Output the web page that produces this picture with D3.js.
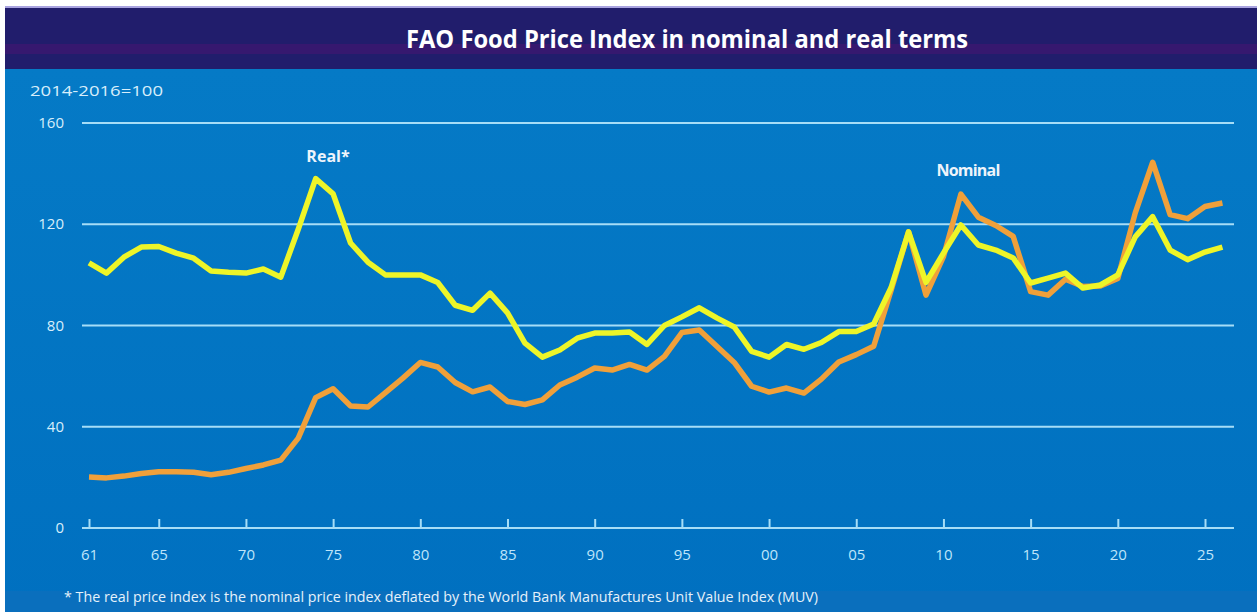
<!DOCTYPE html>
<html>
<head>
<meta charset="utf-8">
<script src="https://cdn.jsdelivr.net/npm/d3@7"></script>
<style>
body { margin: 0; background: #ffffff; }
svg { display: block; }
</style>
</head>
<body>
<svg id="chart" width="1257" height="612"></svg>
<script>
var years = d3.range(1961, 2027);

var nominal = [20.1, 19.8, 20.5, 21.5, 22.2, 22.2, 22.0, 21.0, 22.0, 23.5,
	24.9, 26.8, 35.5, 51.5, 55.0, 48.2, 47.8, 53.5, 59.2, 65.4,
	63.6, 57.5, 53.8, 55.7, 50.0, 48.8, 50.6, 56.5, 59.6, 63.2,
	62.4, 64.6, 62.4, 67.8, 77.2, 78.2, 71.8, 65.4, 56.0, 53.7,
	55.3, 53.3, 58.8, 65.6, 68.5, 71.8, 94.0, 117.0, 92.0, 107.2,
	131.9, 122.8, 119.5, 115.2, 93.4, 92.0, 98.3, 95.4, 95.6, 98.6,
	124.5, 144.5, 123.8, 122.2, 127.0, 128.4];

var real = [104.7, 100.7, 107.0, 111.0, 111.2, 108.6, 106.6, 101.5, 101.0, 100.7,
	102.3, 99.1, 118.0, 138.0, 132.0, 112.6, 105.0, 100.0, 100.0, 100.0,
	97.0, 88.0, 86.0, 92.8, 85.0, 73.0, 67.5, 70.3, 75.0, 77.0,
	77.0, 77.4, 72.5, 80.0, 83.4, 87.0, 83.0, 79.4, 69.8, 67.5,
	72.5, 70.6, 73.3, 77.6, 77.6, 80.6, 95.0, 117.0, 97.0, 108.6,
	119.7, 111.8, 109.8, 106.7, 96.8, 98.7, 100.7, 94.8, 96.0, 100.0,
	115.0, 123.0, 109.8, 106.0, 109.0, 111.0];

var yTicks = [0, 40, 80, 120, 160];
var xTickYears = [1961, 1965, 1970, 1975, 1980, 1985, 1990, 1995, 2000, 2005, 2010, 2015, 2020, 2025];

var svg = d3.select("#chart");
var W = 1257, H = 612;

// background panels
var grad = svg.append("defs").append("linearGradient")
	.attr("id", "bg").attr("x1", 0).attr("y1", 0).attr("x2", 0).attr("y2", 1);
grad.append("stop").attr("offset", "0%").attr("stop-color", "#057ac6");
grad.append("stop").attr("offset", "100%").attr("stop-color", "#0070c0");

svg.append("rect").attr("x", 5).attr("y", 69).attr("width", W - 5).attr("height", H - 69)
	.attr("fill", "url(#bg)");
svg.append("rect").attr("x", 5).attr("y", 591).attr("width", W - 5).attr("height", 21)
	.attr("fill", "#0a6fbd");
svg.append("rect").attr("x", 5).attr("y", 6).attr("width", W - 5).attr("height", 2)
	.attr("fill", "#a9a3e0");
svg.append("rect").attr("x", 5).attr("y", 8).attr("width", W - 5).attr("height", 61)
	.attr("fill", "#211d6c");
svg.append("rect").attr("x", 5).attr("y", 44).attr("width", W - 5).attr("height", 10)
	.attr("fill", "#36186f");

svg.append("text")
	.attr("x", 687).attr("y", 48)
	.attr("text-anchor", "middle")
	.attr("font-family", "'Open Sans', sans-serif")
	.attr("font-weight", 700)
	.attr("font-size", 25)
	.attr("textLength", 562)
	.attr("lengthAdjust", "spacingAndGlyphs")
	.attr("fill", "#ffffff")
	.text("FAO Food Price Index in nominal and real terms");

var x = d3.scaleLinear().domain([1961, 2025]).range([89, 1205]);
var y = d3.scaleLinear().domain([0, 160]).range([528, 123]);

var lineColor = "#a6ddf7";

// grid lines
svg.append("g").selectAll("line").data(yTicks.slice(1)).join("line")
	.attr("x1", 82).attr("x2", 1234)
	.attr("y1", function(d) { return y(d); })
	.attr("y2", function(d) { return y(d); })
	.attr("stroke", lineColor).attr("stroke-width", 2.2);

// y labels
svg.append("g").selectAll("text").data(yTicks).join("text")
	.attr("x", 64)
	.attr("y", function(d) { return y(d) + 5; })
	.attr("text-anchor", "end")
	.attr("font-family", "'Open Sans', sans-serif")
	.attr("font-size", 15)
	.attr("fill", "#d8eefb")
	.text(function(d) { return d; });

// x axis
var xAxis = d3.axisBottom(x)
	.tickValues(xTickYears)
	.tickSize(-9)
	.tickPadding(21)
	.tickFormat(function(d) { return d3.format("02")(d % 100); });

var gx = svg.append("g").attr("transform", "translate(0," + y(0) + ")").call(xAxis);
gx.select(".domain").remove();
gx.insert("line", ":first-child")
	.attr("x1", 82).attr("x2", 1234).attr("y1", 0).attr("y2", 0)
	.attr("stroke", lineColor).attr("stroke-width", 2.2);
gx.selectAll(".tick line").attr("stroke", lineColor).attr("stroke-width", 2);
gx.selectAll(".tick text")
	.attr("font-family", "'Open Sans', sans-serif")
	.attr("font-size", 15)
	.attr("fill", "#bfe5fa");

var line = d3.line()
	.x(function(d, i) { return x(years[i]); })
	.y(function(d) { return y(d); });

svg.append("path").datum(nominal)
	.attr("d", line)
	.attr("fill", "none")
	.attr("stroke", "#f0a03a")
	.attr("stroke-width", 5.5)
	.attr("stroke-linejoin", "round");

svg.append("path").datum(real)
	.attr("d", line)
	.attr("fill", "none")
	.attr("stroke", "#eef528")
	.attr("stroke-width", 5.5)
	.attr("stroke-linejoin", "round");

// series labels
svg.append("text")
	.attr("x", 328).attr("y", 162)
	.attr("text-anchor", "middle")
	.attr("font-family", "'Open Sans', sans-serif")
	.attr("font-weight", 700)
	.attr("font-size", 16)
	.attr("fill", "#eef4fb")
	.text("Real*");

svg.append("text")
	.attr("x", 968).attr("y", 176)
	.attr("text-anchor", "middle")
	.attr("font-family", "'Open Sans', sans-serif")
	.attr("font-weight", 700)
	.attr("font-size", 16)
	.attr("letter-spacing", -0.8)
	.attr("fill", "#eef4fb")
	.text("Nominal");

svg.append("text")
	.attr("x", 30).attr("y", 96)
	.attr("font-family", "'Open Sans', sans-serif")
	.attr("font-size", 14)
	.attr("textLength", 133)
	.attr("lengthAdjust", "spacingAndGlyphs")
	.attr("fill", "#d8eefb")
	.text("2014-2016=100");

svg.append("text")
	.attr("x", 64).attr("y", 602)
	.attr("font-family", "'Open Sans', sans-serif")
	.attr("font-size", 14)
	.attr("textLength", 754)
	.attr("lengthAdjust", "spacingAndGlyphs")
	.attr("fill", "#e6f2fb")
	.text("* The real price index is the nominal price index deflated by the World Bank Manufactures Unit Value Index (MUV)");
</script>
</body>
</html>
